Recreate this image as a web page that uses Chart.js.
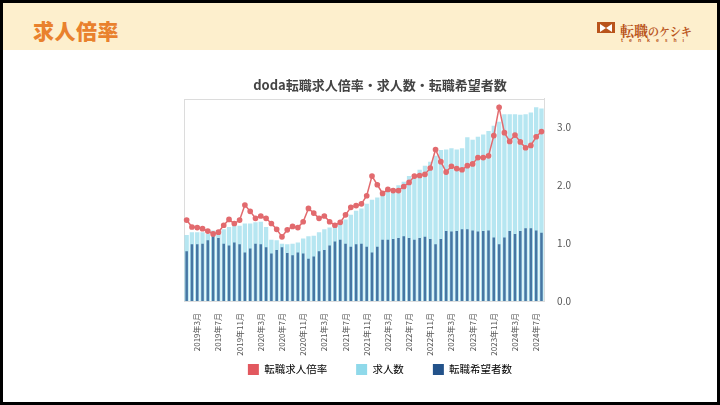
<!DOCTYPE html>
<html>
<head>
<meta charset="utf-8">
<script src="https://cdn.jsdelivr.net/npm/chart.js@4"></script>
<style>
  html, body { margin: 0; padding: 0; }
  body { width: 720px; height: 405px; background: #000; position: relative; overflow: hidden;
         font-family: "Noto Sans CJK JP", "Noto Sans", sans-serif; }
  #page { position: absolute; left: 3px; top: 3px; width: 714px; height: 399px; background: #fff; }
  #header { position: absolute; left: 0; top: 0; width: 714px; height: 47px; background: #fdefcd; }
  #heading { position: absolute; left: 30px; top: 12px; font-size: 21px; font-weight: 900; color: #e9812d; letter-spacing: 0.5px; }
  #logo { position: absolute; left: 594px; top: 15px; }
  #logo .icon { position: absolute; left: 0; top: 4px; width: 18px; height: 11px; background: #b9541b; }
  #logo .icon:before { content: ""; position: absolute; left: 3px; top: 1.5px; width: 0; height: 0;
         border-left: 6px solid #fff; border-right: 6px solid #fff; border-top: 4px solid transparent; border-bottom: 4px solid transparent; }
  #logo .name { position: absolute; left: 23px; top: 0; color: #b9541b; white-space: nowrap; font-weight: bold; font-family: "Noto Serif CJK JP", "Noto Sans CJK JP", serif; }
  #logo .big { font-size: 14px; }
  #logo .small { font-size: 11px; }
  #logo .sub { position: absolute; left: 24px; top: 18px; font-size: 5px; color: #b9541b; letter-spacing: 6px; white-space: nowrap; font-weight: bold; }
  #wrap { position: absolute; left: 137px; top: 59px; width: 460px; height: 323px; }
</style>
</head>
<body>
<div id="page">
  <div id="header">
    <div id="heading">求人倍率</div>
    <div id="logo"><div class="icon"></div><div class="name"><span class="big">転職</span><span class="small">のケシキ</span></div><div class="sub">tenkeshi</div></div>
  </div>
  <div id="wrap"><canvas id="chart"></canvas></div>
</div>
<script>
// months 2019年1月 .. 2024年8月
const months = [];
for (let y = 2019; y <= 2024; y++) {
  for (let m = 1; m <= 12; m++) {
    if (y === 2024 && m > 8) break;
    months.push(y + "年" + m + "月");
  }
}

// 転職求人倍率
const rate = [
  1.40, 1.28, 1.27, 1.25, 1.21, 1.16, 1.19, 1.31, 1.41, 1.34, 1.40, 1.66,
  1.55, 1.43, 1.47, 1.43, 1.34, 1.24, 1.11, 1.23, 1.29, 1.27, 1.37, 1.60,
  1.52, 1.43, 1.47, 1.37, 1.31, 1.36, 1.49, 1.62, 1.65, 1.68, 1.82, 2.16,
  2.01, 1.86, 1.93, 1.91, 1.91, 1.98, 2.05, 2.16, 2.17, 2.19, 2.30, 2.62,
  2.41, 2.23, 2.33, 2.29, 2.27, 2.34, 2.37, 2.48, 2.48, 2.51, 2.86, 3.35,
  2.91, 2.76, 2.87, 2.75, 2.65, 2.69, 2.84, 2.93
];

// 求人数
const jobs = [
  1.14, 1.19, 1.19, 1.19, 1.16, 1.22, 1.16, 1.24, 1.28, 1.30, 1.30, 1.34,
  1.34, 1.36, 1.37, 1.28, 1.06, 1.05, 0.99, 0.98, 0.99, 1.01, 1.08, 1.12,
  1.13, 1.19, 1.24, 1.27, 1.30, 1.33, 1.41, 1.49, 1.56, 1.60, 1.68, 1.75,
  1.79, 1.86, 1.94, 1.95, 2.00, 2.06, 2.16, 2.18, 2.27, 2.34, 2.41, 2.51,
  2.61, 2.62, 2.64, 2.62, 2.64, 2.83, 2.79, 2.84, 2.88, 2.94, 3.03, 3.10,
  3.23, 3.23, 3.23, 3.22, 3.23, 3.26, 3.35, 3.33
];

// 転職希望者数
const seekers = [
  0.86, 0.98, 0.98, 0.99, 1.05, 1.12, 1.09, 0.99, 0.96, 1.01, 0.98, 0.84,
  0.91, 0.99, 0.98, 0.93, 0.82, 0.88, 0.93, 0.83, 0.79, 0.84, 0.82, 0.73,
  0.77, 0.86, 0.88, 0.96, 1.03, 1.06, 0.99, 0.94, 0.98, 0.99, 0.94, 0.84,
  0.94, 1.06, 1.06, 1.07, 1.09, 1.12, 1.09, 1.06, 1.09, 1.11, 1.07, 0.98,
  1.07, 1.21, 1.20, 1.21, 1.24, 1.24, 1.22, 1.20, 1.21, 1.22, 1.10, 0.98,
  1.10, 1.21, 1.16, 1.21, 1.26, 1.26, 1.22, 1.18
];

const yTicks = [0, 1, 2, 3];

// trailing ideographic spaces widen the gap between legend items
const legendItems = [
  { text: "転職求人倍率\u3000\u3000", color: "#e2585f" },
  { text: "求人数\u3000\u3000", color: "#8fd9ea" },
  { text: "転職希望者数", color: "#23528a" }
];

// light grey frame round the plot
const frame = {
  id: "frame",
  beforeDatasetsDraw(chart) {
    const a = chart.chartArea;
    const ctx = chart.ctx;
    ctx.save();
    ctx.strokeStyle = "#dcdcdc";
    ctx.lineWidth = 1;
    ctx.strokeRect(Math.round(a.left) + 0.5, Math.round(a.top) + 0.5, Math.round(a.right - a.left), Math.round(a.bottom - a.top));
    ctx.restore();
  }
};

Chart.defaults.font.family = '"Noto Sans CJK JP", "Noto Sans", sans-serif';
Chart.defaults.color = "#555";

new Chart(document.getElementById("chart"), {
  type: "bar",
  data: {
    labels: months,
    datasets: [
      {
        type: "line",
        label: "転職求人倍率",
        data: rate,
        borderColor: "#e26a6e",
        backgroundColor: "#e26a6e",
        borderWidth: 1.5,
        pointRadius: 2.1,
        pointHoverRadius: 3,
        tension: 0,
        order: 0
      },
      {
        label: "求人数",
        data: jobs,
        backgroundColor: "rgba(143,217,234,0.65)",
        grouped: false,
        barPercentage: 0.82,
        categoryPercentage: 1,
        order: 2
      },
      {
        label: "転職希望者数",
        data: seekers,
        backgroundColor: "rgba(35,82,138,0.75)",
        grouped: false,
        barPercentage: 0.48,
        categoryPercentage: 1,
        order: 1
      }
    ]
  },
  options: {
    responsive: true,
    maintainAspectRatio: false,
    animation: false,
    layout: { padding: { left: 44, right: 24, top: 0, bottom: 0 } },
    scales: {
      x: {
        offset: true,
        grid: { display: false },
        border: { color: "#dcdcdc" },
        afterFit: function (axis) { axis.height = 55; },
        ticks: {
          autoSkip: false,
          maxRotation: 90,
          minRotation: 90,
          padding: 4,
          font: { size: 8 },
          color: "#555",
          callback: function (v, i) { return i % 4 === 2 ? months[i] : ""; }
        }
      },
      y: {
        position: "right",
        min: 0,
        max: 3.5,
        grid: { display: false },
        border: { color: "#dcdcdc" },
        afterBuildTicks: function (axis) { axis.ticks = yTicks.map((v) => ({ value: v })); },
        ticks: {
          padding: 5,
          font: { size: 10 },
          color: "#555",
          callback: function (v) { return Number(v).toFixed(1); }
        }
      }
    },
    plugins: {
      title: {
        display: true,
        text: "doda転職求人倍率・求人数・転職希望者数",
        color: "#444",
        font: { size: 13, weight: "bold" },
        padding: { top: 15, bottom: 6 }
      },
      legend: {
        position: "bottom",
        labels: {
          boxWidth: 11,
          boxHeight: 11,
          padding: 8,
          font: { size: 10.5 },
          color: "#555",
          generateLabels: function () {
            return legendItems.map((it, i) => ({
              text: it.text,
              fillStyle: it.color,
              strokeStyle: it.color,
              lineWidth: 0,
              datasetIndex: i
            }));
          }
        }
      },
      tooltip: { enabled: false }
    }
  },
  plugins: [frame]
});
</script>
</body>
</html>
